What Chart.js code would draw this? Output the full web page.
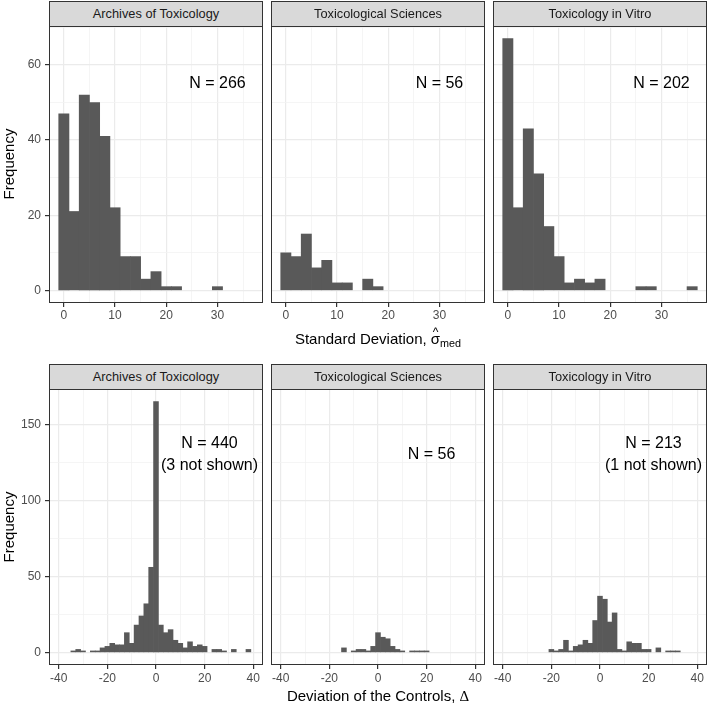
<!DOCTYPE html>
<html>
<head>
<meta charset="utf-8">
<script src="https://cdn.jsdelivr.net/npm/chart.js@4.4.1/dist/chart.umd.min.js"></script>
<style>
  body { margin: 0; background: #fff; }
  #fig { position: relative; width: 708px; height: 705px; overflow: hidden; font-family: "Liberation Sans", Arial, sans-serif; }
  #fig canvas { position: absolute; }
  .strip { position: absolute; box-sizing: border-box; background: #D9D9D9; border: 1px solid #333; color: #1A1A1A; font-size: 12.8px; text-align: center; }
  .ytitle { position: absolute; width: 200px; height: 18px; line-height: 18px; font-size: 15px; text-align: center; transform: rotate(-90deg); color: #000; }
  .xtitle { position: absolute; left: 49px; width: 658px; height: 20px; line-height: 20px; font-size: 15px; text-align: center; color: #000; white-space: nowrap; }
  .hs { position: relative; display: inline-block; }
  .hat { position: absolute; left: 0; right: 0; top: -0.62em; text-align: center; font-size: 0.8em; }
  .xtitle sub { font-size: 0.72em; vertical-align: -0.3em; line-height: 0; }
  .serif { font-family: "Liberation Serif", "Times New Roman", serif; }
</style>
</head>
<body>
<div id="fig">
  <div class="ytitle" style="left:-91px; top:155px;">Frequency</div>
  <div class="ytitle" style="left:-91px; top:518px;">Frequency</div>
  <div class="xtitle" style="top:329px;">Standard Deviation, <span class="hs">σ<span class="hat">^</span></span><sub>med</sub></div>
  <div class="xtitle" style="top:686px;">Deviation of the Controls, <span class="serif">Δ</span></div>
</div>
<script>
// journals (facets)
const journals = ['Archives of Toxicology', 'Toxicological Sciences', 'Toxicology in Vitro'];

// top row: standard deviation histogram, bin centres (width 2)
const sdBins = [0, 2, 4, 6, 8, 10, 12, 14, 16, 18, 20, 22, 24, 26, 28, 30, 32, 34, 36];
const sdArchives = [47, 21, 52, 50, 41, 22, 9, 9, 3, 5, 1, 1, 0, 0, 0, 1, 0, 0, 0];
const sdToxSci = [10, 9, 15, 6, 8, 2, 2, 0, 3, 1, 0, 0, 0, 0, 0, 0, 0, 0, 0];
const sdVitro = [67, 22, 43, 31, 17, 9, 2, 3, 2, 3, 0, 0, 0, 1, 1, 0, 0, 0, 1];
const sdXTicks = [0, 10, 20, 30];
const sdYTicks = [0, 20, 40, 60];
const sdLabels = [['N = 266'], ['N = 56'], ['N = 202']];

// bottom row: deviation of the controls, bin centres (width 2)
const devBins = [-34, -32, -30, -28, -26, -24, -22, -20, -18, -16, -14, -12, -10, -8, -6, -4, -2,
  0, 2, 4, 6, 8, 10, 12, 14, 16, 18, 20, 22, 24, 26, 28, 30, 32, 34, 36, 38];
const devArchives = [1, 2, 1, 0, 1, 1, 3, 4, 6, 5, 5, 13, 6, 18, 24, 32, 56,
  165, 18, 13, 15, 8, 6, 3, 7, 4, 5, 4, 0, 2, 2, 1, 0, 2, 0, 0, 2];
const devToxSci = [0, 0, 0, 0, 0, 0, 0, 0, 0, 0, 3, 0, 1, 2, 2, 1, 4,
  13, 10, 9, 4, 2, 1, 0, 1, 1, 1, 1, 0, 0, 0, 0, 0, 0, 0, 0, 0];
const devVitro = [0, 0, 0, 0, 0, 0, 0, 2, 1, 2, 8, 1, 4, 5, 8, 6, 21,
  37, 35, 20, 26, 2, 1, 7, 6, 6, 2, 2, 0, 3, 0, 1, 1, 1, 0, 0, 0];
const devXTicks = [-40, -20, 0, 20, 40];
const devYTicks = [0, 50, 100, 150];
const devLabels = [['N = 440', '(3 not shown)'], ['N = 56'], ['N = 213', '(1 not shown)']];

Chart.defaults.font.family = '"Liberation Sans", Arial, sans-serif';

const fig = document.getElementById('fig');
const cols = [[49, 263], [271, 485], [493, 707]];

const rows = [
  { stripTop: 1, plotTop: 26, plotBottom: 303, bins: sdBins, series: [sdArchives, sdToxSci, sdVitro],
    labels: sdLabels, labelAt: [30, 55], xMin: -2.9, xMax: 38.9, xStep: 5, xMajor: sdXTicks,
    yMin: -3.35, yMax: 70.35, yStep: 10, yMajor: sdYTicks, tickPad: 1 },
  { stripTop: 364, plotTop: 389, plotBottom: 665, bins: devBins, series: [devArchives, devToxSci, devVitro],
    labels: devLabels, labelAt: [22, 130], xMin: -44, xMax: 44, xStep: 10, xMajor: devXTicks,
    yMin: -8.25, yMax: 173.25, yStep: 25, yMajor: devYTicks, tickPad: 2 }
];

// panel border + "N = ..." annotation
function panelDecor(at, lines) {
  return {
    id: 'panelDecor',
    afterDraw(chart) {
      const { ctx, chartArea: a, scales } = chart;
      ctx.save();
      ctx.strokeStyle = '#333333';
      ctx.lineWidth = 1;
      ctx.strokeRect(a.left + 0.5, a.top + 0.5, a.width - 1, a.height - 1);
      ctx.fillStyle = '#000';
      ctx.font = '16px "Liberation Sans", Arial, sans-serif';
      ctx.textAlign = 'center';
      ctx.textBaseline = 'middle';
      const x = scales.x.getPixelForValue(at[0]);
      const y = scales.y.getPixelForValue(at[1]);
      lines.forEach((t, i) => {
        ctx.fillText(t, x, y + (i - (lines.length - 1) / 2) * 22);
      });
      ctx.restore();
    }
  };
}

function gridOpts(major, showTicks) {
  const isMajor = v => major.includes(v);
  return {
    color: c => isMajor(c.tick.value) ? '#EBEBEB' : '#F3F3F3',
    lineWidth: c => isMajor(c.tick.value) ? 1.2 : 0.8,
    tickColor: c => isMajor(c.tick.value) ? '#333333' : 'rgba(0,0,0,0)',
    tickLength: 4,
    drawTicks: showTicks,
    offset: false
  };
}

rows.forEach(row => {
  cols.forEach(([left, right], c) => {
    const first = c === 0;
    const yw = first ? 49 : 0;
    const padL = first ? 0 : 4;
    const padR = Math.min(8, 708 - right);
    const padT = 16;
    const cLeft = left - yw - padL;
    const width = right - cLeft + padR;
    const height = padT + (row.plotBottom - row.plotTop) + 30;

    // strip
    const strip = document.createElement('div');
    strip.className = 'strip';
    const sh = row.plotTop - row.stripTop + 1;
    strip.style.cssText = `left:${left}px;top:${row.stripTop}px;width:${right - left}px;height:${sh}px;line-height:${sh - 2}px;`;
    strip.textContent = journals[c];
    fig.appendChild(strip);

    const canvas = document.createElement('canvas');
    canvas.width = width;
    canvas.height = height;
    canvas.style.left = cLeft + 'px';
    canvas.style.top = (row.plotTop - padT) + 'px';
    canvas.style.width = width + 'px';
    canvas.style.height = height + 'px';
    fig.insertBefore(canvas, fig.firstChild);

    const counts = row.series[c];
    new Chart(canvas, {
      type: 'bar',
      data: {
        datasets: [{
          // empty bins are left out so no hairline is drawn on the baseline
          data: row.bins.map((b, i) => ({ x: b, y: counts[i] || null })),
          backgroundColor: '#595959',
          borderWidth: 0,
          barPercentage: 1,
          categoryPercentage: 1
        }]
      },
      options: {
        responsive: false,
        animation: false,
        devicePixelRatio: 1,
        layout: { padding: { left: padL, right: padR, top: padT, bottom: 0 } },
        plugins: { legend: { display: false }, tooltip: { enabled: false } },
        scales: {
          x: {
            type: 'linear',
            min: row.xMin,
            max: row.xMax,
            offset: false,
            border: { display: false },
            grid: gridOpts(row.xMajor, true),
            ticks: {
              stepSize: row.xStep,
              includeBounds: false,
              autoSkip: false,
              maxRotation: 0,
              padding: row.tickPad,
              color: '#4D4D4D',
              font: { size: 12 },
              callback: v => row.xMajor.includes(v) ? String(v) : ''
            },
            afterFit: s => { s.height = 30; }
          },
          y: {
            type: 'linear',
            min: row.yMin,
            max: row.yMax,
            border: { display: false },
            grid: gridOpts(row.yMajor, first),
            ticks: {
              display: first,
              stepSize: row.yStep,
              includeBounds: false,
              autoSkip: false,
              padding: 4,
              color: '#4D4D4D',
              font: { size: 12 },
              callback: v => row.yMajor.includes(v) ? String(v) : ''
            },
            afterFit: s => { s.width = yw; }
          }
        }
      },
      plugins: [panelDecor(row.labelAt, row.labels[c])]
    });
  });
});
</script>
</body>
</html>
